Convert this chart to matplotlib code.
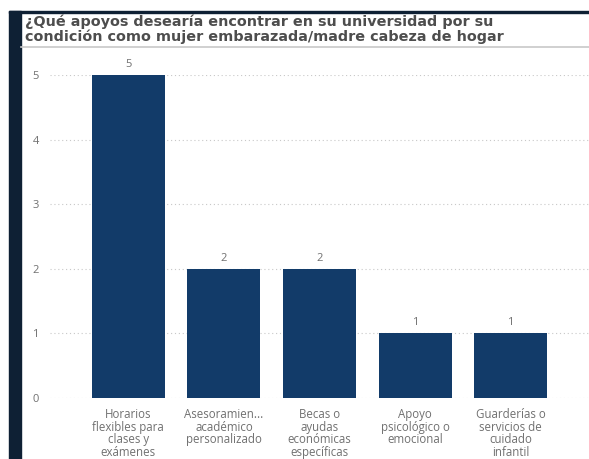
"""Bar chart: apoyos deseados en la universidad."""

import matplotlib

matplotlib.use("Agg")
import matplotlib.pyplot as plt
from matplotlib.patches import Rectangle

categories = [
    "Horarios\nflexibles para\nclases y\nexámenes",
    "Asesoramien...\nacadémico\npersonalizado",
    "Becas o\nayudas\neconómicas\nespecíficas",
    "Apoyo\npsicológico o\nemocional",
    "Guarderías o\nservicios de\ncuidado\ninfantil",
]
counts = [5, 2, 2, 1, 1]
yticks = [0, 1, 2, 3, 4, 5]

title = ("¿Qué apoyos desearía encontrar en su universidad por su\n"
         "condición como mujer embarazada/madre cabeza de hogar")

W, H = 589, 459
BAR = "#123b69"
GREY = "#707070"
DARK = "#0e2034"

plt.rcParams["font.family"] = ["Open Sans", "DejaVu Sans"]

fig = plt.figure(figsize=(W / 100, H / 100), dpi=100)

# dark frame on the left and the top, like the dashboard screenshot
fig.patches.append(Rectangle((9 / W, 0), 12 / W, 1 - 11 / H,
                             transform=fig.transFigure, color=DARK, zorder=0))
fig.patches.append(Rectangle((9 / W, 1 - 13 / H), 1, 2 / H,
                             transform=fig.transFigure, color=DARK, zorder=0))
# separator under the title
fig.add_artist(plt.Line2D([21 / W, 1], [1 - 47 / H, 1 - 47 / H],
                          transform=fig.transFigure, color="#c8c8c8", lw=1.2))

fig.text(25 / W, 1 - 29 / H, title, ha="left", va="center", fontsize=10.4,
         family="DejaVu Sans", fontweight="bold", color="#4d4d4d",
         linespacing=1.02)

ax = fig.add_axes([50 / W, 1 - 398 / H, (W - 50) / W, (398 - 75) / H])
x = range(len(categories))
bars = ax.bar(x, counts, width=0.765, color=BAR, zorder=2)

for b, v in zip(bars, counts):
    ax.text(b.get_x() + b.get_width() / 2, v + 0.08, str(v), ha="center",
            va="bottom", fontsize=8, color=GREY, clip_on=False)

ax.set_xlim(-0.82, 4.82)
ax.set_ylim(0, 5)
ax.set_yticks(yticks)
ax.set_yticklabels([str(t) for t in yticks], fontsize=8, color=GREY)
ax.set_xticks(list(x))
ax.set_xticklabels(categories, fontsize=8.3, color=GREY, linespacing=0.98,
                   va="top")
ax.tick_params(axis="both", length=0)
ax.tick_params(axis="y", pad=8)
ax.tick_params(axis="x", pad=7)
ax.grid(axis="y", color="#c8c8c8", linestyle=(0, (1, 2.5)), lw=0.8, zorder=0)
ax.set_axisbelow(True)
for s in ax.spines.values():
    s.set_visible(False)

fig.savefig("out.png", dpi=100)
